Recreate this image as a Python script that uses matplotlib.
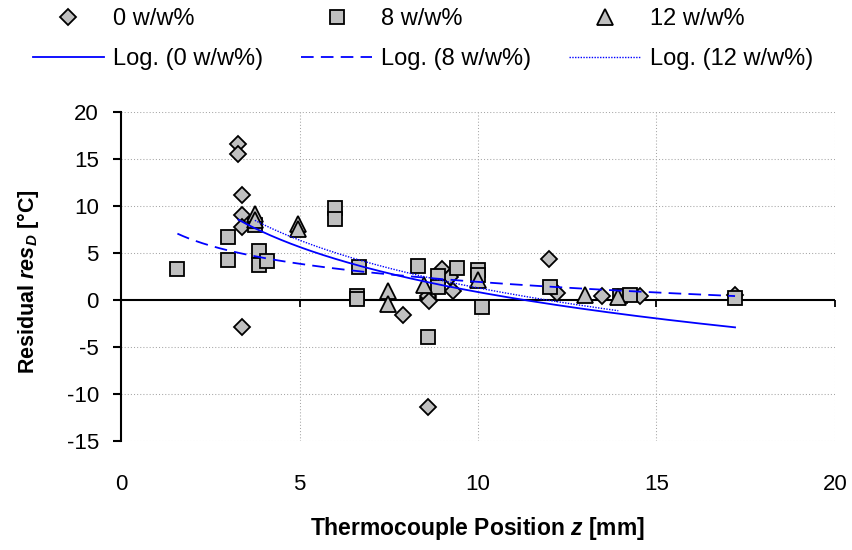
import numpy as np
import matplotlib
matplotlib.use('Agg')
import matplotlib.pyplot as plt

plt.rcParams['font.family'] = ['Liberation Sans', 'DejaVu Sans']
plt.rcParams['axes.unicode_minus'] = False
plt.rcParams['mathtext.fontset'] = 'custom'
plt.rcParams['mathtext.rm'] = 'Liberation Sans'
plt.rcParams['mathtext.it'] = 'Liberation Sans:italic'
plt.rcParams['mathtext.bf'] = 'Liberation Sans:bold'
plt.rcParams['mathtext.bfit'] = 'Liberation Sans:bold:italic'

# 0 w/w% series (diamonds)
x0 = [3.29, 3.29, 3.40, 3.38, 3.38, 3.40, 7.89, 8.59, 8.60, 8.62, 8.59,
      8.98, 9.22, 9.29, 11.99, 12.20, 13.47, 14.54, 17.20]
y0 = [16.6, 15.5, 11.2, 9.0, 7.8, -2.9, -1.6, 0.2, 0.4, -0.1, -11.4,
      3.3, 2.5, 1.0, 4.4, 0.7, 0.45, 0.45, 0.5]

# 8 w/w% series (squares)
x8 = [1.58, 2.99, 2.99, 3.75, 3.87, 3.87, 4.08, 5.99, 5.99, 6.68, 6.60, 6.60,
      8.31, 8.89, 8.89, 9.40, 9.99, 9.99, 10.10, 8.59, 12.02, 13.98, 14.26, 17.20]
y8 = [3.3, 6.7, 4.3, 8.0, 5.2, 3.7, 4.2, 9.8, 8.6, 3.5, 0.4, 0.1,
      3.6, 2.6, 1.4, 3.4, 3.2, 2.7, -0.7, -3.9, 1.4, 0.45, 0.5, 0.25]

# 12 w/w% series (triangles)
x12 = [3.75, 3.75, 4.97, 4.97, 7.49, 7.49, 8.49, 9.99, 13.0, 13.93]
y12 = [9.2, 8.5, 8.1, 7.6, 1.0, -0.4, 1.6, 2.1, 0.55, 0.35]

series_labels = ['0 w/w%', '8 w/w%', '12 w/w%']
xticks = [0, 5, 10, 15, 20]
yticks = [-15, -10, -5, 0, 5, 10, 15, 20]

fig = plt.figure(figsize=(8.53, 5.5), dpi=100)
ax = fig.add_axes([121 / 853, 109 / 550, 714 / 853, 329 / 550])

gray = '#c0c0c0'
mk = dict(linestyle='none', markerfacecolor=gray, markeredgecolor='black',
          markeredgewidth=1.3, zorder=3)
h0, = ax.plot(x0, y0, marker='D', markersize=8, label=series_labels[0], **mk)
h8, = ax.plot(x8, y8, marker='s', markersize=9.5, label=series_labels[1], **mk)
h12, = ax.plot(x12, y12, marker='^', markersize=11, label=series_labels[2], **mk)

# logarithmic trend lines (least squares on ln x)
styles = ['-', (0, (7, 4)), (0, (1, 1))]
widths = [1.3, 1.3, 1.0]
trend = []
for (xs, ys), ls, lw, lab in zip([(x0, y0), (x8, y8), (x12, y12)], styles, widths, series_labels):
    xs = np.array(xs)
    a, b = np.polyfit(np.log(xs), ys, 1)
    xx = np.linspace(xs.min(), xs.max(), 200)
    h, = ax.plot(xx, a * np.log(xx) + b, color='#0000ff', linestyle=ls, lw=lw,
                 label='Log. (' + lab + ')', zorder=4)
    trend.append(h)

ax.set_xlim(0, 20)
ax.set_ylim(-15, 20)
ax.set_xticks(xticks)
ax.set_yticks(yticks)

# grid: dotted gray, zero line solid black
for v in xticks[1:]:
    ax.axvline(v, color='#a6a6a6', lw=0.75, linestyle=(0, (1, 2)), zorder=0)
for v in yticks:
    if v != 0:
        ax.axhline(v, color='#a6a6a6', lw=0.75, linestyle=(0, (1, 2)), zorder=0)
ax.axhline(0, color='black', lw=1.5, zorder=2)

for s in ['top', 'right', 'bottom']:
    ax.spines[s].set_visible(False)
ax.spines['left'].set_linewidth(1.5)
ax.tick_params(axis='y', direction='out', length=6, width=1.5, pad=10, labelsize=16)
ax.tick_params(axis='x', length=0, pad=24, labelsize=16)

# tick marks on the zero line
sec = ax.secondary_xaxis(15 / 35)
sec.set_xticks(xticks[1:])
sec.tick_params(direction='out', length=5, width=1.3, labelbottom=False)
sec.spines['bottom'].set_visible(False)

ax.set_xlabel('Thermocouple Position $\\mathbfit{z}$ [mm]', fontsize=16.5, fontweight='bold')
ax.xaxis.set_label_coords(0.5, -0.225)
ax.set_ylabel('Residual $\\mathbfit{res}_{\\mathbfit{D}}$ [°C]', fontsize=15.5, fontweight='bold')
ax.yaxis.set_label_coords(-0.112, 0.485)

handles = [h0, trend[0], h8, trend[1], h12, trend[2]]
fig.legend(handles=handles, labels=[h.get_label() for h in handles], ncol=3,
           loc='upper left', bbox_to_anchor=(33 / 853, 0.985), frameon=False,
           fontsize=17, borderpad=0, handlelength=3.0, handletextpad=0.4,
           columnspacing=1.6, labelspacing=0.75, borderaxespad=0)

fig.savefig('out.png', dpi=100)
